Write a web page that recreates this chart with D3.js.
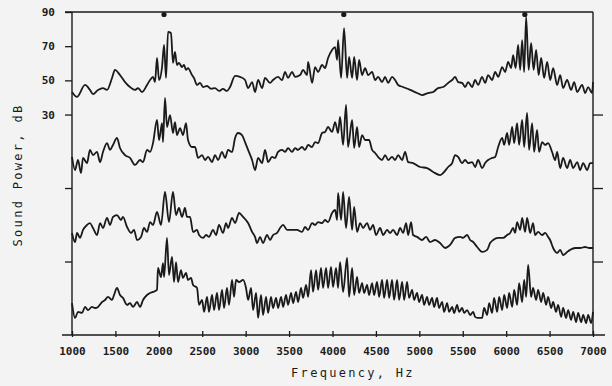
<!DOCTYPE html>
<html>
<head>
<meta charset="utf-8">
<script src="https://cdn.jsdelivr.net/npm/d3@7"></script>
<style>
    body { margin: 0; background: #f2f3f2; }
    #chart svg text { font-family: "DejaVu Sans Mono", monospace; fill: #1c1c1c; }
</style>
</head>
<body>
<div id="chart"></div>
<script>
// Axis ticks
const freqTicks = [1000, 1500, 2000, 2500, 3000, 3500, 4000, 4500, 5000, 5500, 6000, 6500, 7000];
const dbTicks = [90, 70, 50, 30];

// Each spectrum is drawn shifted down by its offset (dB)
const traceOffsets = [0, 43, 86, 129];

// Harmonic markers along the top
const harmonicMarks = [2060, 4130, 6215];

// Spectra: [frequency Hz, sound power dB]
const trace1 = [[1000,43.2],[1058,40.3],[1150,47.3],[1207,44.4],[1242,42.0],[1300,44.4],[1357,45.5],[1403,44.4],[1461,51.4],[1495,56.1],[1553,53.1],[1611,49.0],[1668,46.1],[1726,44.4],[1760,45.5],[1806,43.2],[1864,47.3],[1899,50.2],[1933,52.0],[1956,49.0],[1979,63.1],[2002,50.2],[2037,57.8],[2060,70.7],[2083,51.4],[2106,78.3],[2140,77.7],[2163,60.2],[2186,66.6],[2209,59.0],[2232,60.2],[2267,57.8],[2290,59.0],[2313,56.1],[2336,57.2],[2382,53.1],[2405,51.4],[2440,47.3],[2475,48.5],[2509,46.1],[2555,46.7],[2601,45.0],[2647,45.5],[2693,43.8],[2739,45.0],[2785,43.8],[2820,46.1],[2878,52.6],[2935,52.0],[2993,50.2],[3028,45.5],[3074,49.0],[3108,43.2],[3143,50.2],[3189,45.5],[3223,51.4],[3281,48.5],[3315,50.2],[3373,52.0],[3419,50.2],[3454,54.9],[3488,51.4],[3534,54.9],[3569,52.0],[3627,53.1],[3661,56.1],[3707,53.1],[3719,60.8],[3765,48.5],[3799,57.8],[3834,54.9],[3880,59.0],[3914,57.2],[3949,63.1],[3995,67.8],[4030,69.5],[4053,61.9],[4064,73.6],[4099,51.4],[4133,80.6],[4168,51.4],[4191,63.7],[4226,51.4],[4249,63.7],[4283,50.2],[4306,61.9],[4341,53.1],[4375,57.2],[4410,53.1],[4456,54.9],[4491,50.2],[4525,52.0],[4571,49.0],[4606,52.0],[4641,48.5],[4686,52.0],[4721,50.2],[4756,47.3],[4813,46.1],[4894,44.4],[4974,42.6],[5032,41.4],[5101,42.6],[5159,43.2],[5216,45.5],[5274,46.1],[5332,48.5],[5378,50.2],[5412,52.0],[5447,49.0],[5493,48.5],[5527,46.1],[5562,49.0],[5608,46.1],[5643,50.2],[5677,47.3],[5723,52.0],[5758,48.5],[5792,53.1],[5838,50.2],[5873,54.9],[5908,52.0],[5954,57.8],[5988,54.9],[6023,60.8],[6057,57.2],[6080,64.8],[6109,57.2],[6138,70.7],[6161,56.1],[6184,73.6],[6207,54.9],[6230,87.1],[6259,56.1],[6287,71.9],[6316,56.1],[6345,67.8],[6374,53.1],[6403,63.1],[6437,51.4],[6472,60.8],[6507,50.2],[6541,57.2],[6587,47.3],[6622,53.1],[6656,45.5],[6702,50.2],[6748,44.4],[6783,49.0],[6818,43.2],[6875,47.3],[6910,42.6],[6944,46.1],[6990,42.6],[7000,49.0]];

const trace2 = [[1000,48.2],[1035,40.5],[1069,46.4],[1104,38.8],[1127,47.6],[1173,44.6],[1207,52.3],[1242,49.3],[1288,51.1],[1323,45.2],[1357,51.1],[1403,56.3],[1438,52.3],[1472,55.2],[1518,59.3],[1553,53.4],[1611,49.3],[1668,47.6],[1726,43.5],[1783,46.4],[1818,45.2],[1864,52.3],[1899,51.1],[1933,56.3],[1979,69.8],[2002,58.1],[2037,68.0],[2048,56.9],[2071,82.7],[2094,65.7],[2129,72.7],[2163,62.2],[2186,68.6],[2209,61.0],[2244,65.1],[2278,61.0],[2313,68.0],[2336,58.1],[2382,54.0],[2417,54.0],[2452,47.6],[2498,49.3],[2532,46.4],[2567,48.2],[2613,45.2],[2647,49.3],[2682,46.4],[2728,51.1],[2763,47.6],[2797,52.3],[2843,51.1],[2878,59.3],[2912,62.2],[2958,61.0],[2993,56.9],[3028,52.3],[3074,46.4],[3108,40.5],[3143,47.6],[3189,44.6],[3223,52.3],[3258,45.2],[3304,48.2],[3338,47.6],[3373,51.1],[3419,52.3],[3454,51.1],[3488,53.4],[3534,51.1],[3569,53.4],[3603,52.3],[3649,54.0],[3684,52.3],[3719,55.2],[3765,54.0],[3799,56.9],[3834,56.3],[3880,62.2],[3914,62.8],[3949,65.7],[3995,62.8],[4030,68.6],[4064,62.2],[4087,71.6],[4122,55.2],[4156,78.6],[4179,54.0],[4226,69.8],[4249,53.4],[4283,65.7],[4306,54.0],[4341,61.0],[4375,58.1],[4421,58.1],[4456,52.3],[4491,50.5],[4525,48.2],[4571,46.4],[4606,49.3],[4641,46.4],[4686,48.2],[4721,46.4],[4756,49.3],[4802,46.4],[4836,51.1],[4871,45.2],[4928,44.6],[5009,42.3],[5089,41.7],[5159,39.4],[5239,37.6],[5274,38.8],[5332,42.3],[5378,44.6],[5412,49.3],[5447,48.2],[5493,44.6],[5527,46.4],[5562,44.6],[5608,45.2],[5643,42.3],[5677,46.4],[5723,41.7],[5758,44.6],[5792,46.4],[5838,47.6],[5873,48.2],[5908,54.0],[5954,59.3],[5977,55.2],[6011,62.2],[6034,55.2],[6069,65.7],[6092,56.3],[6126,68.0],[6149,55.2],[6184,69.8],[6207,54.0],[6241,73.9],[6264,52.3],[6299,68.0],[6322,51.1],[6356,64.0],[6379,51.1],[6414,56.9],[6449,55.2],[6483,56.3],[6529,51.1],[6564,46.4],[6587,51.1],[6622,41.7],[6656,47.6],[6702,41.7],[6737,46.4],[6771,41.7],[6818,45.2],[6852,40.5],[6887,44.6],[6933,40.5],[6967,44.6],[7000,44.6]];

const trace3 = [[1000,46.7],[1035,41.4],[1058,46.7],[1092,43.8],[1127,48.5],[1173,51.4],[1207,52.5],[1242,49.6],[1288,45.5],[1323,52.5],[1357,49.6],[1403,55.5],[1438,51.4],[1472,56.1],[1518,57.2],[1564,54.3],[1587,56.1],[1634,50.2],[1680,46.7],[1714,48.5],[1749,42.6],[1795,44.4],[1829,49.6],[1864,47.3],[1899,53.1],[1933,51.4],[1979,59.0],[2025,51.4],[2071,70.7],[2117,53.1],[2163,70.7],[2198,57.2],[2232,61.3],[2267,56.1],[2301,61.3],[2324,56.1],[2359,56.1],[2394,47.3],[2440,48.5],[2463,45.5],[2509,43.8],[2544,45.5],[2578,44.4],[2624,48.5],[2659,45.5],[2693,51.4],[2739,46.7],[2774,52.5],[2797,49.6],[2843,55.5],[2878,52.5],[2924,58.4],[2970,56.1],[3028,52.5],[3074,47.3],[3108,44.4],[3131,40.8],[3166,44.4],[3200,40.8],[3246,45.5],[3281,42.6],[3315,45.5],[3361,46.7],[3396,49.6],[3431,51.4],[3477,48.5],[3534,48.5],[3592,48.5],[3649,47.3],[3684,50.2],[3719,48.5],[3765,52.5],[3799,51.4],[3834,53.1],[3880,52.5],[3914,54.3],[3949,53.1],[3995,58.4],[4030,60.2],[4053,54.3],[4064,70.1],[4099,54.3],[4122,70.7],[4156,49.6],[4191,67.8],[4226,48.5],[4249,61.9],[4283,47.3],[4318,52.5],[4352,49.6],[4398,52.5],[4433,48.5],[4467,51.4],[4502,45.5],[4548,49.6],[4583,45.5],[4629,48.5],[4663,46.7],[4698,48.5],[4744,45.5],[4779,49.6],[4813,46.7],[4848,52.5],[4871,45.5],[4905,53.1],[4928,45.5],[4974,44.4],[5032,42.6],[5078,44.4],[5124,41.4],[5181,42.6],[5239,40.8],[5297,37.9],[5354,39.7],[5412,43.8],[5470,44.4],[5504,43.8],[5550,45.5],[5585,42.6],[5620,41.4],[5666,38.5],[5723,35.6],[5781,36.8],[5815,40.8],[5850,42.6],[5908,43.8],[5965,43.8],[6011,45.5],[6046,46.7],[6080,49.6],[6103,46.7],[6126,53.1],[6161,48.5],[6184,55.5],[6218,47.3],[6241,55.5],[6276,46.7],[6310,52.5],[6333,45.5],[6368,47.3],[6414,45.5],[6449,46.7],[6483,44.4],[6506,42.6],[6541,37.9],[6587,35.0],[6622,36.8],[6656,33.8],[6702,35.6],[6737,36.8],[6794,37.9],[6852,37.9],[6910,38.5],[6956,37.9],[7000,37.9]];

const trace4 = [[1000,48.7],[1035,40.0],[1069,43.5],[1115,42.9],[1150,46.4],[1184,44.6],[1230,46.4],[1265,45.8],[1300,46.4],[1346,49.3],[1380,50.5],[1415,52.3],[1461,50.5],[1484,53.4],[1518,57.5],[1553,53.4],[1587,51.7],[1634,47.6],[1668,48.7],[1703,46.4],[1749,49.3],[1783,46.4],[1818,50.5],[1864,53.4],[1899,54.6],[1933,55.2],[1979,56.4],[1990,69.2],[2025,63.9],[2048,72.1],[2060,63.9],[2094,86.8],[2117,65.1],[2152,75.7],[2175,61.0],[2198,72.7],[2221,61.0],[2255,68.0],[2278,63.4],[2313,66.3],[2336,62.2],[2371,63.4],[2394,59.3],[2440,57.5],[2463,47.6],[2498,50.5],[2521,43.5],[2555,52.3],[2578,43.5],[2613,53.4],[2636,44.6],[2670,54.6],[2693,44.6],[2728,56.4],[2751,45.8],[2785,57.5],[2808,47.6],[2843,62.2],[2866,52.3],[2889,62.2],[2924,61.0],[2970,62.2],[3004,57.5],[3028,50.5],[3062,57.5],[3085,44.6],[3120,54.6],[3143,40.0],[3177,53.4],[3200,41.7],[3235,52.3],[3258,42.9],[3292,52.3],[3315,45.8],[3350,51.7],[3373,45.8],[3408,52.3],[3431,46.4],[3465,53.4],[3488,47.6],[3523,54.6],[3546,48.7],[3580,55.2],[3603,49.3],[3638,57.5],[3661,51.7],[3696,59.3],[3719,52.3],[3753,68.0],[3776,55.2],[3811,68.0],[3834,56.4],[3868,69.2],[3891,57.5],[3926,69.2],[3949,57.5],[3983,69.8],[4006,58.1],[4041,69.2],[4064,57.5],[4087,72.7],[4122,55.2],[4168,75.1],[4191,52.3],[4226,69.2],[4249,53.4],[4283,64.0],[4306,54.6],[4341,60.4],[4364,54.6],[4398,59.3],[4421,53.4],[4456,60.4],[4479,53.4],[4513,61.0],[4537,52.3],[4571,62.2],[4594,51.7],[4629,62.2],[4652,51.7],[4686,62.2],[4709,50.5],[4744,62.2],[4767,50.5],[4802,61.0],[4825,50.5],[4859,61.0],[4882,51.7],[4917,56.4],[4940,50.5],[4974,54.6],[4997,49.3],[5032,53.4],[5055,47.6],[5089,52.3],[5112,47.6],[5147,51.7],[5170,46.4],[5204,51.7],[5227,45.8],[5262,49.3],[5285,43.5],[5320,48.7],[5343,43.5],[5378,46.4],[5401,42.9],[5435,47.6],[5458,43.5],[5493,45.8],[5516,42.9],[5550,44.6],[5585,41.7],[5620,43.5],[5643,40.6],[5677,40.0],[5723,40.0],[5746,45.8],[5781,41.7],[5804,48.7],[5838,42.9],[5861,51.7],[5896,43.5],[5919,52.3],[5954,44.6],[5977,53.4],[6011,45.8],[6034,54.6],[6069,46.4],[6092,56.4],[6126,47.6],[6149,60.4],[6184,49.3],[6207,62.2],[6230,52.3],[6253,71.0],[6287,52.3],[6310,57.5],[6345,50.5],[6368,56.4],[6403,49.3],[6426,54.6],[6460,47.6],[6483,52.3],[6518,45.8],[6541,49.3],[6575,43.5],[6598,47.6],[6633,40.6],[6656,45.8],[6690,40.0],[6714,44.6],[6748,38.8],[6771,43.5],[6806,37.6],[6829,42.9],[6864,37.6],[6887,41.7],[6921,37.0],[6944,41.7],[6979,37.0],[7000,43.5]];

const traces = [trace1, trace2, trace3, trace4];

// Set up dimensions
const width = 612, height = 386;
const margin = {top: 12, right: 19, bottom: 51, left: 72};
const ink = '#1a1a1a';

const svg = d3.select('#chart')
    .append('svg')
    .attr('width', width)
    .attr('height', height);

// Create scales
const x = d3.scaleLinear()
    .domain([1000, 7000])
    .range([margin.left, width - margin.right]);

const y = d3.scaleLinear()
    .domain([-99, 90])
    .range([height - margin.bottom, margin.top]);

const x0 = x.range()[0], x1 = x.range()[1];
const yTop = y(90), yBot = y.range()[0];

// Offset ticks: the 30 dB level of each shifted spectrum
const offsetTicks = traceOffsets.slice(0, 3).map(o => 30 - o);

// Bottom axis
const xAxis = svg.append('g')
    .attr('transform', `translate(0,${yBot})`)
    .call(d3.axisBottom(x)
        .tickValues(freqTicks)
        .tickFormat(d3.format('d'))
        .tickSizeOuter(0)
        .tickSizeInner(0)
        .tickPadding(12));
xAxis.select('.domain').remove();
xAxis.selectAll('.tick line')
    .attr('y1', -4).attr('y2', 2)
    .attr('stroke', ink).attr('stroke-width', 1.3);
xAxis.selectAll('text')
    .style('font-size', '11px')
    .style('font-weight', 'bold');

// Left axis
const yAxis = svg.append('g')
    .attr('transform', `translate(${x0},0)`)
    .call(d3.axisLeft(y)
        .tickValues(dbTicks.concat(offsetTicks.slice(1)))
        .tickFormat(d => dbTicks.includes(d) ? d : '')
        .tickSizeOuter(0)
        .tickSizeInner(7)
        .tickPadding(10));
yAxis.select('.domain').remove();
yAxis.selectAll('.tick line').attr('stroke', ink).attr('stroke-width', 1.3);
yAxis.selectAll('text')
    .style('font-size', '11px')
    .style('font-weight', 'bold');

// Right axis
const yAxisR = svg.append('g')
    .attr('transform', `translate(${x1},0)`)
    .call(d3.axisRight(y)
        .tickValues(offsetTicks)
        .tickFormat('')
        .tickSizeOuter(0)
        .tickSizeInner(10));
yAxisR.select('.domain').remove();
yAxisR.selectAll('.tick line').attr('stroke', ink).attr('stroke-width', 1.3);

// Frame
const frame = svg.append('g')
    .attr('stroke', ink)
    .attr('stroke-width', 1.4)
    .attr('fill', 'none');
frame.append('line').attr('x1', x0 - 10).attr('x2', x1 + 12).attr('y1', yBot).attr('y2', yBot);
frame.append('line').attr('x1', x0 - 7).attr('x2', x1).attr('y1', yTop).attr('y2', yTop);
frame.append('line').attr('x1', x0).attr('x2', x0).attr('y1', yTop).attr('y2', yBot);
frame.append('line').attr('x1', x1).attr('x2', x1).attr('y1', yTop).attr('y2', yBot);

// Spectra
const line = d3.line()
    .x(d => x(d[0]))
    .y(d => y(d[1]))
    .curve(d3.curveMonotoneX);

svg.selectAll('.trace')
    .data(traces)
    .enter()
    .append('path')
    .attr('class', 'trace')
    .attr('d', (d, i) => line(d.map(p => [p[0], p[1] - traceOffsets[i]])))
    .attr('fill', 'none')
    .attr('stroke', ink)
    .attr('stroke-width', 1.8)
    .attr('stroke-linejoin', 'round');

// Harmonic markers
svg.selectAll('.mark')
    .data(harmonicMarks)
    .enter()
    .append('circle')
    .attr('class', 'mark')
    .attr('cx', d => x(d))
    .attr('cy', yTop + 2.5)
    .attr('r', 2.6)
    .attr('fill', ink);

// Axis titles
svg.append('text')
    .attr('x', 353)
    .attr('y', 377)
    .attr('text-anchor', 'middle')
    .style('font-size', '12px')
    .style('letter-spacing', '2.3px')
    .text('Frequency, Hz');

svg.append('text')
    .attr('transform', 'translate(22,175) rotate(-90)')
    .attr('text-anchor', 'middle')
    .style('font-size', '12px')
    .style('letter-spacing', '2.3px')
    .text('Sound Power, dB');
</script>
</body>
</html>
